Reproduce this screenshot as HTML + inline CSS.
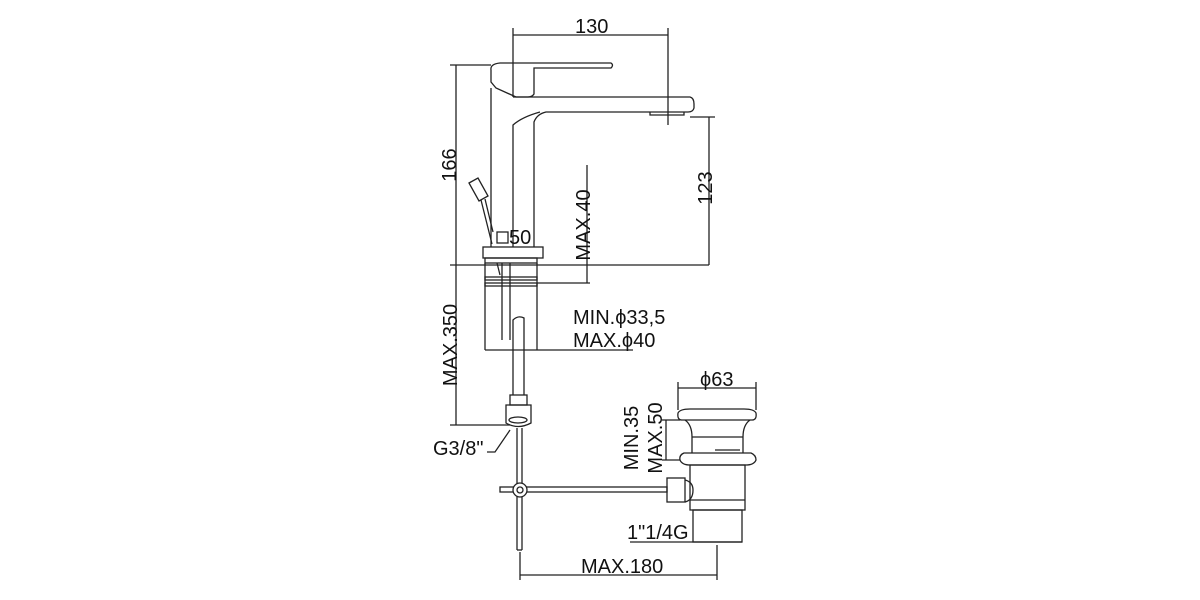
<!DOCTYPE html>
<html><head><meta charset="utf-8"><style>
html,body{margin:0;padding:0;background:#fff;}
svg{display:block;}
text{font-family:"Liberation Sans",sans-serif;font-size:20px;fill:#111;}
</style></head><body>
<svg width="1200" height="600" viewBox="0 0 1200 600" xmlns="http://www.w3.org/2000/svg">
<g fill="none" stroke="#222" stroke-width="1.3">
<line x1="513" y1="35" x2="668" y2="35"/>
<line x1="513" y1="28" x2="513" y2="68"/>
<line x1="668" y1="28" x2="668" y2="125"/>
<path d="M491,70 Q490,64 500,63 L513,63 L611,63 Q614,65 611,68 L534,68 L534,94 Q532,97 528,97 L516,97 L496,88 L491,82 Z"/>
<line x1="513" y1="68" x2="513" y2="97"/>
<line x1="491" y1="88" x2="491" y2="247"/>
<path d="M513,97 L690,97 Q694,98 694,104 L694,108 Q693,112 688,112 L546,112 Q537,114 534,122 L534,247"/>
<path d="M513,247 L513,125 Q522,117 540,112"/>
<path d="M650,112 L650,115 L684,115 L684,112"/>
<path d="M469,183 L478,178 L488,196 L479,201 Z"/>
<line x1="481" y1="200" x2="492" y2="244"/>
<line x1="485" y1="199" x2="493" y2="232"/>
<rect x="483" y="247" width="60" height="11"/>
<rect x="485" y="258" width="52" height="5"/>
<line x1="485" y1="263" x2="485" y2="350"/>
<line x1="537" y1="263" x2="537" y2="350"/>
<rect x="485" y="277" width="52" height="3"/>
<rect x="485" y="283" width="52" height="3"/>
<line x1="502" y1="263" x2="502" y2="340"/>
<line x1="510" y1="263" x2="510" y2="340"/>
<line x1="497" y1="263" x2="500" y2="275"/>
<path d="M513,395 L513,320 Q518,315 524,318 L524,395"/>
<rect x="510" y="395" width="17" height="10"/>
<path d="M506,405 L531,405 L531,423 Q518,430 506,423 Z"/>
<ellipse cx="518" cy="420" rx="9" ry="3"/>
<line x1="517" y1="428" x2="517" y2="550"/>
<line x1="522" y1="428" x2="522" y2="550"/>
<line x1="517" y1="550" x2="522" y2="550"/>
<rect x="500" y="487" width="167" height="5"/>
<circle cx="520" cy="490" r="7" fill="#fff"/>
<circle cx="520" cy="490" r="3"/>
<rect x="667" y="478" width="18" height="24"/>
<path d="M685,480 Q693,482 693,490 Q693,500 685,502"/>
<line x1="678" y1="388" x2="756" y2="388"/>
<line x1="678" y1="382" x2="678" y2="410"/>
<line x1="756" y1="382" x2="756" y2="410"/>
<path d="M682,420 Q677,420 678,413 Q680,409 690,409 L744,409 Q754,409 756,413 Q757,420 752,420 Z"/>
<path d="M685,420 Q692,425 692,437 L692,453 M750,420 Q743,425 743,437 L743,453"/>
<line x1="692" y1="437" x2="743" y2="437"/>
<path d="M684,453 Q679,455 680,460 Q682,465 690,465 L746,465 Q754,465 756,460 Q756,455 751,453 Z"/>
<rect x="690" y="465" width="55" height="45"/>
<line x1="690" y1="500" x2="745" y2="500"/>
<rect x="693" y="510" width="49" height="32"/>
<line x1="715" y1="450" x2="740" y2="450"/>
<line x1="456" y1="65" x2="456" y2="425"/>
<line x1="450" y1="65" x2="491" y2="65"/>
<line x1="450" y1="265" x2="709" y2="265"/>
<line x1="709" y1="117" x2="709" y2="265"/>
<line x1="690" y1="117" x2="715" y2="117"/>
<line x1="587" y1="165" x2="587" y2="283"/>
<line x1="537" y1="283" x2="590" y2="283"/>
<line x1="485" y1="350" x2="633" y2="350"/>
<line x1="450" y1="425" x2="510" y2="425"/>
<line x1="662" y1="420" x2="680" y2="420"/>
<line x1="662" y1="460" x2="680" y2="460"/>
<line x1="666" y1="420" x2="666" y2="460"/>
<line x1="630" y1="542" x2="742" y2="542"/>
<line x1="520" y1="552" x2="520" y2="580"/>
<line x1="717" y1="545" x2="717" y2="580"/>
<line x1="520" y1="575" x2="717" y2="575"/>
<path d="M487,452 L495,452 L510,430"/>
<rect x="497" y="232" width="11" height="11"/>
</g>
<text x="575" y="33">130</text>
<text transform="translate(456,165) rotate(-90)" text-anchor="middle">166</text>
<text transform="translate(712,188) rotate(-90)" text-anchor="middle">123</text>
<text transform="translate(590,225) rotate(-90)" text-anchor="middle">MAX.40</text>
<text x="509" y="244">50</text>
<text x="573" y="324">MIN.ϕ33,5</text>
<text x="573" y="347">MAX.ϕ40</text>
<text transform="translate(457,345) rotate(-90)" text-anchor="middle">MAX.350</text>
<text x="433" y="455">G3/8"</text>
<text x="700" y="386">ϕ63</text>
<text transform="translate(638,438) rotate(-90)" text-anchor="middle">MIN.35</text>
<text transform="translate(662,438) rotate(-90)" text-anchor="middle">MAX.50</text>
<text x="627" y="539">1"1/4G</text>
<text x="581" y="573">MAX.180</text>
</svg>
</body></html>
